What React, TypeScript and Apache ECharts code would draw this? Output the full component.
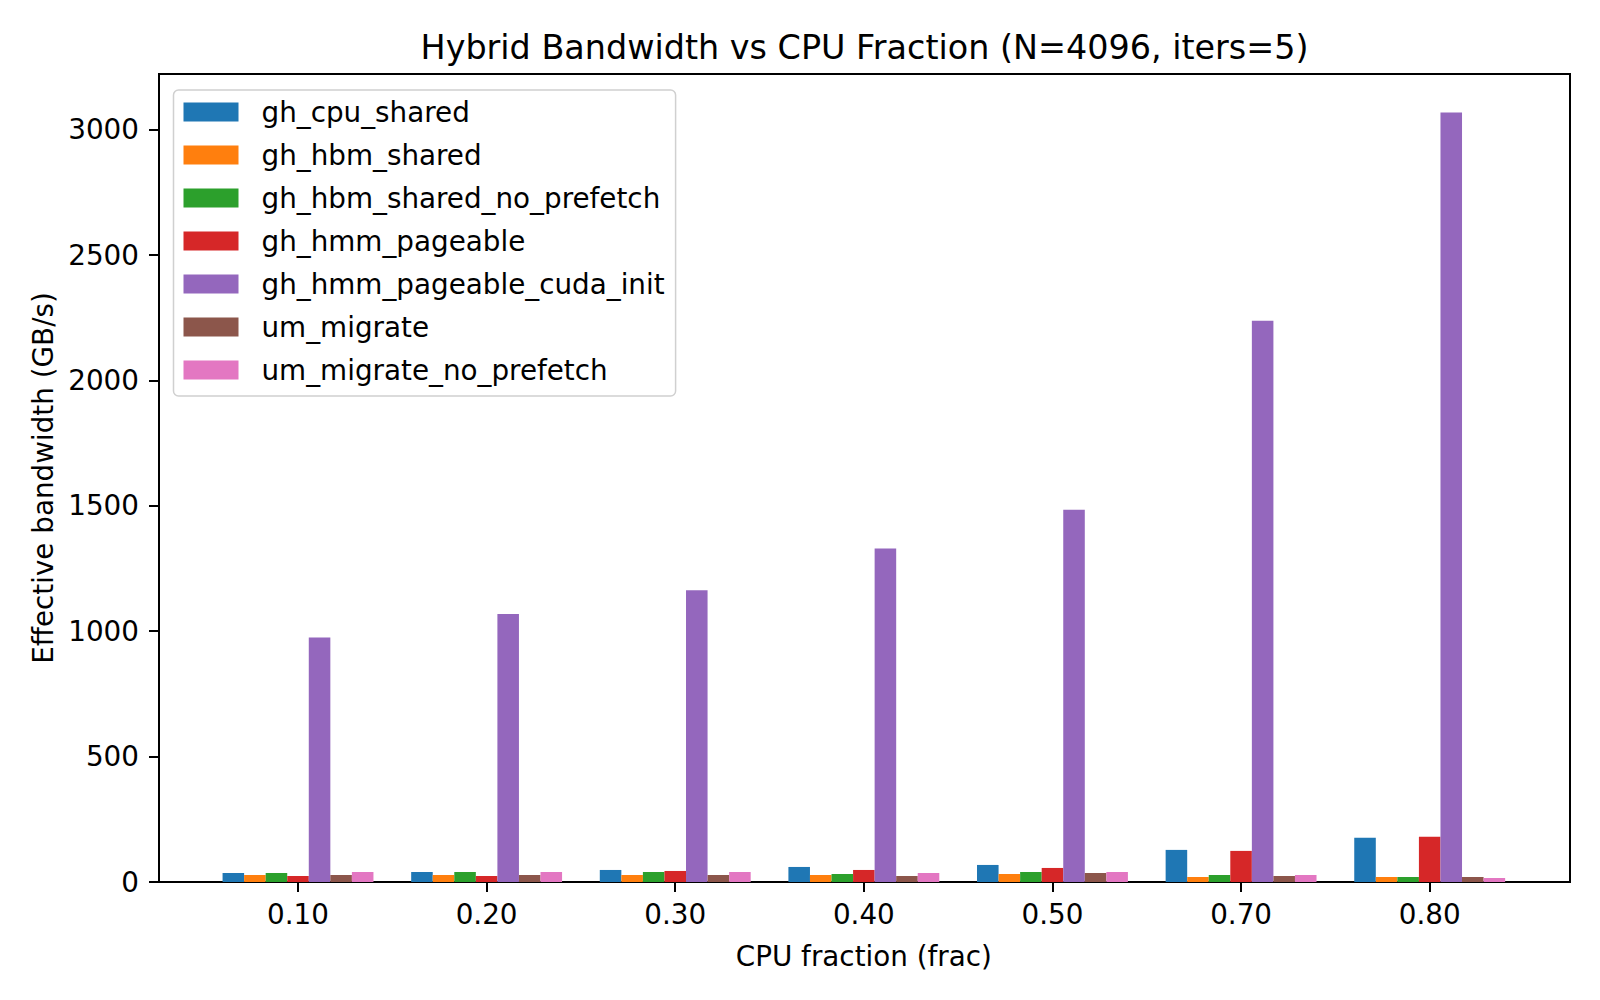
import React, { useEffect, useRef } from "react";
import * as echarts from "echarts";

const categories = ["0.10", "0.20", "0.30", "0.40", "0.50", "0.70", "0.80"];
const seriesNames = [
  "gh_cpu_shared",
  "gh_hbm_shared",
  "gh_hbm_shared_no_prefetch",
  "gh_hmm_pageable",
  "gh_hmm_pageable_cuda_init",
  "um_migrate",
  "um_migrate_no_prefetch",
];
const ghCpuShared = [36, 40, 48, 60, 68, 128, 176];
const ghHbmShared = [28, 28, 28, 28, 32, 20, 20];
const ghHbmSharedNoPrefetch = [36, 40, 40, 32, 40, 28, 20];
const ghHmmPageable = [24, 24, 44, 48, 56, 124, 180];
const ghHmmPageableCudaInit = [975, 1069, 1163, 1330, 1484, 2238, 3068];
const umMigrate = [28, 28, 28, 24, 36, 24, 20];
const umMigrateNoPrefetch = [40, 40, 40, 36, 40, 28, 16];
const yTicks = [0, 500, 1000, 1500, 2000, 2500, 3000];
const colors = ["#1f77b4", "#ff7f0e", "#2ca02c", "#d62728", "#9467bd", "#8c564b", "#e377c2"];

const FONT = "DejaVu Sans";
const FS = 27.8;

export default function App() {
  const ref = useRef<HTMLDivElement>(null);
  useEffect(() => {
    if (!ref.current) return;
    const chart = echarts.init(ref.current, null, { renderer: "svg" });
    const values = [
      ghCpuShared,
      ghHbmShared,
      ghHbmSharedNoPrefetch,
      ghHmmPageable,
      ghHmmPageableCudaInit,
      umMigrate,
      umMigrateNoPrefetch,
    ];
    const frameLeft = 159;
    const frameRight = 1570;
    const gridLeft = 203.7;
    const gridRight = 1524;
    chart.setOption({
      animation: false,
      backgroundColor: "#ffffff",
      color: colors,
      textStyle: { fontFamily: FONT },
      graphic: [
        {
          type: "text",
          x: (frameLeft + frameRight) / 2,
          y: 47,
          style: {
            text: "Hybrid Bandwidth vs CPU Fraction (N=4096, iters=5)",
            fontSize: 33.4,
            fontFamily: FONT,
            fill: "#000",
            align: "center",
            verticalAlign: "middle",
          },
        },
      ],
      legend: {
        orient: "vertical",
        left: 173.5,
        top: 90,
        padding: [8, 11, 12, 10],
        itemWidth: 55,
        itemHeight: 19,
        itemGap: 15,
        icon: "rect",
        backgroundColor: "#ffffff",
        borderColor: "#d0d0d0",
        borderWidth: 1.5,
        borderRadius: 5,
        textStyle: {
          fontSize: FS,
          fontFamily: FONT,
          color: "#000",
          lineHeight: 28,
          padding: [0, 0, 0, 18],
        },
        data: seriesNames,
      },
      grid: [
        { left: gridLeft, right: 1600 - gridRight, top: 74, bottom: 118, containLabel: false },
        {
          left: frameLeft,
          right: 1600 - frameRight,
          top: 74,
          bottom: 118,
          show: true,
          borderColor: "#000",
          borderWidth: 2,
          backgroundColor: "transparent",
        },
      ],
      xAxis: [
        {
          type: "category",
          gridIndex: 0,
          data: categories,
          axisLine: { show: true, lineStyle: { color: "#000", width: 2 } },
          axisTick: { show: true, alignWithLabel: true, interval: 0, length: 10, lineStyle: { color: "#000", width: 2 } },
          axisLabel: { fontSize: FS, fontFamily: FONT, color: "#000", margin: 18, interval: 0 },
          name: "CPU fraction (frac)",
          nameLocation: "middle",
          nameGap: 60,
          nameTextStyle: { fontSize: FS, fontFamily: FONT, color: "#000" },
          splitLine: { show: false },
        },
        { type: "value", gridIndex: 1, show: false, min: 0, max: 1 },
      ],
      yAxis: [
        {
          type: "value",
          gridIndex: 0,
          min: 0,
          max: 3222,
          interval: 500,
          offset: gridLeft - frameLeft,
          axisLine: { show: true, lineStyle: { color: "#000", width: 2 } },
          axisTick: { show: true, length: 10, lineStyle: { color: "#000", width: 2 }, customValues: yTicks },
          axisLabel: {
            fontSize: FS,
            fontFamily: FONT,
            color: "#000",
            margin: 20,
            customValues: yTicks,
            formatter: (v: number) => String(v),
          },
          splitLine: { show: false },
          name: "Effective bandwidth (GB/s)",
          nameLocation: "middle",
          nameGap: 99,
          nameTextStyle: { fontSize: FS, fontFamily: FONT, color: "#000" },
        },
        { type: "value", gridIndex: 1, show: false, min: 0, max: 1 },
      ],
      series: seriesNames.map((name, i) => ({
        name,
        type: "bar",
        xAxisIndex: 0,
        yAxisIndex: 0,
        data: values[i],
        barGap: "0%",
        barCategoryGap: "20%",
        itemStyle: { color: colors[i] },
      })),
    });
    return () => chart.dispose();
  }, []);
  return (
    <div
      ref={ref}
      style={{ position: "fixed", left: 0, top: 0, width: 1600, height: 1000, background: "#fff" }}
    />
  );
}
